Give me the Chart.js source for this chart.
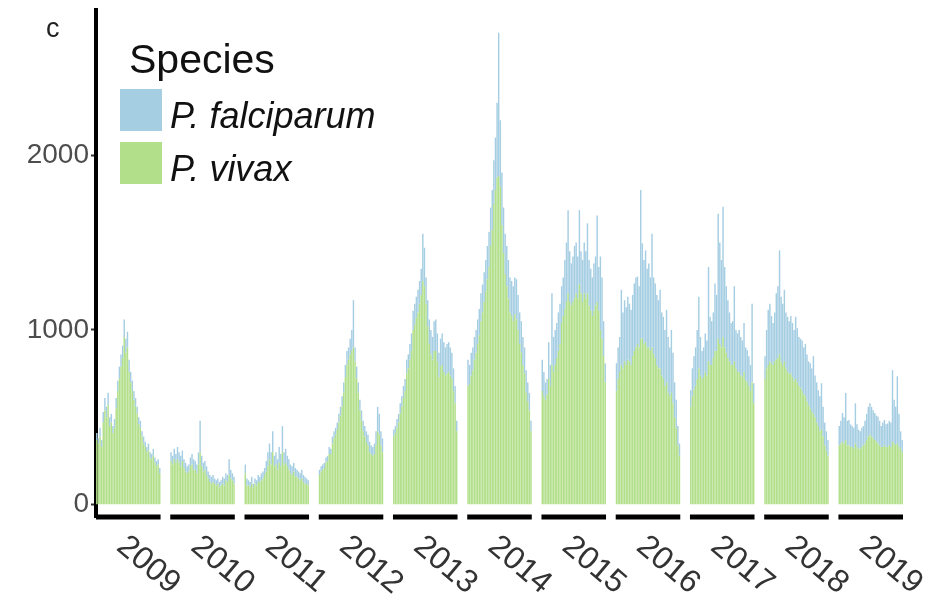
<!DOCTYPE html>
<html>
<head>
<meta charset="utf-8">
<script src="https://cdn.jsdelivr.net/npm/chart.js@4"></script>
<style>
    body { margin: 0; background: #fff; }
    canvas { display: block; }
</style>
</head>
<body>
<canvas id="species-chart" width="948" height="603"></canvas>
<script>
const years = ['2009', '2010', '2011', '2012', '2013', '2014', '2015', '2016', '2017', '2018', '2019'];

// cases per period, one row per year (40 periods each)
const vivax = [
    [370,350,390,330,470,540,500,570,450,470,410,440,550,650,720,790,840,960,870,900,760,700,650,600,560,520,460,440,390,350,330,300,310,270,260,280,240,220,230,180],
    [250,230,260,240,260,240,220,250,210,190,180,190,220,230,200,200,180,230,300,220,190,200,170,150,130,120,130,120,110,120,100,110,120,110,140,130,170,150,140,120],
    [180,110,110,100,120,100,120,110,130,130,140,150,170,190,220,260,230,300,220,230,200,240,220,300,230,240,220,200,180,170,190,160,160,150,140,150,130,120,120,110],
    [170,190,200,210,240,250,290,290,350,380,400,430,470,510,560,640,730,800,830,860,880,900,820,720,640,540,480,420,390,360,340,300,290,280,290,340,420,400,340,300],
    [390,410,440,470,520,560,610,650,750,780,830,880,1000,1030,1070,1100,1150,1200,1280,1250,1150,1020,920,860,830,880,880,820,730,790,800,760,740,750,760,740,720,650,580,420],
    [680,690,740,770,830,870,920,970,1050,1100,1160,1220,1290,1360,1480,1570,1720,1800,1870,1880,1820,1600,1440,1320,1250,1180,1100,1080,1050,1090,1060,1000,920,870,800,750,640,590,540,420],
    [650,620,600,630,720,680,800,760,800,840,880,920,1040,1080,1120,1160,1210,1160,1140,1160,1180,1210,1180,1260,1210,1160,1210,1180,1210,1140,1110,1080,1110,1140,1160,1110,1000,950,850,700],
    [650,720,760,800,780,820,800,830,820,800,850,880,900,920,900,950,950,920,930,900,900,880,900,860,840,800,780,780,740,720,680,700,640,620,640,580,500,440,340,280],
    [560,620,660,680,720,780,740,720,730,760,740,820,800,800,840,880,880,950,920,900,960,900,870,840,820,800,800,820,780,760,760,740,730,760,710,700,680,650,700,580],
    [720,780,800,820,810,800,820,830,840,860,820,800,820,780,760,750,750,730,710,720,700,680,670,650,630,620,590,570,550,530,520,500,470,450,420,430,390,340,310,280],
    [340,350,360,350,370,340,340,330,330,320,350,330,320,320,330,340,350,370,390,400,390,380,370,360,350,340,330,330,340,330,330,340,330,360,350,340,350,330,320,300]
];

const falciparum = [
    [40,30,50,40,60,70,60,70,50,50,40,50,60,60,70,70,70,100,80,90,70,60,60,50,50,40,40,40,30,40,30,30,40,30,30,40,30,30,30,30],
    [50,50,60,50,70,60,60,60,50,50,40,40,50,60,60,50,50,70,180,60,50,50,50,40,40,40,40,30,30,30,30,30,40,40,40,40,90,50,40,40],
    [50,40,30,30,40,20,30,30,40,30,40,40,40,60,80,90,70,120,60,70,60,90,70,150,70,80,60,60,50,50,50,50,40,40,40,50,40,40,30,30],
    [30,30,30,30,30,30,40,30,40,40,40,40,50,50,60,60,70,80,70,90,120,270,80,70,60,60,60,60,60,60,60,60,50,50,60,80,140,120,80,80],
    [40,40,50,50,60,60,70,70,80,80,90,100,110,120,120,130,130,150,270,220,150,150,140,140,130,170,180,160,140,160,180,170,160,170,170,160,150,130,100,60],
    [150,110,130,130,130,130,140,150,160,160,170,180,190,200,220,230,250,300,430,820,380,300,260,230,230,220,200,200,200,210,230,200,180,180,160,150,130,110,100,60],
    [180,140,100,90,210,120,410,200,200,200,220,230,210,220,280,340,475,290,240,260,300,290,240,425,240,240,290,270,400,260,240,220,270,280,495,250,420,350,200,110],
    [160,180,200,430,320,350,330,360,330,315,350,385,400,385,350,850,545,480,525,450,480,420,650,440,425,400,390,450,360,355,320,415,320,280,360,290,200,160,110,70],
    [95,160,190,220,280,410,220,160,170,220,200,540,275,250,260,385,320,715,580,500,745,460,380,330,280,240,250,430,220,220,240,220,210,280,190,185,170,150,450,115],
    [130,220,315,330,270,240,280,380,410,595,370,350,410,320,315,300,330,310,290,355,310,280,280,290,270,300,270,250,260,250,330,240,230,205,200,265,170,130,110,90],
    [110,130,165,150,270,140,145,130,120,120,230,130,110,100,110,110,130,150,170,180,170,160,155,150,155,140,120,140,145,130,135,140,140,410,250,220,385,190,100,70]
];

const yTicks = [0, 1000, 2000];
const speciesNames = ['P. falciparum', 'P. vivax'];
const speciesColors = ['#a6cee3', '#b2df8a'];

const gapSlots = 6;

// flatten the years into one category axis with empty slots between facets
const labels = [];
const vivaxData = [];
const falciparumData = [];
const yearStart = [];
years.forEach((year, i) => {
    if (i > 0) {
        for (let g = 0; g < gapSlots; ++g) {
            labels.push('');
            vivaxData.push(null);
            falciparumData.push(null);
        }
    }
    yearStart.push(labels.length);
    vivax[i].forEach((v, j) => {
        labels.push(year + '-' + j);
        vivaxData.push(v);
        falciparumData.push(falciparum[i][j]);
    });
});

const facetAxis = {
    id: 'facetAxis',
    afterDraw(chart) {
        const ctx = chart.ctx;
        const xs = chart.scales.x;
        const area = chart.chartArea;
        const half = (xs.getPixelForValue(1) - xs.getPixelForValue(0)) / 2;
        ctx.save();
        years.forEach((year, i) => {
            const first = yearStart[i];
            const last = first + vivax[i].length - 1;
            const x0 = xs.getPixelForValue(first) - half;
            const x1 = xs.getPixelForValue(last) + half;
            ctx.strokeStyle = '#000';
            ctx.lineWidth = 5;
            ctx.beginPath();
            ctx.moveTo(x0, area.bottom);
            ctx.lineTo(x1, area.bottom);
            ctx.stroke();

            const center = (x0 + x1) / 2;
            ctx.save();
            ctx.translate(center + 3, area.bottom + 13);
            ctx.rotate(40 * Math.PI / 180);
            ctx.fillStyle = '#333';
            ctx.font = '32px "Liberation Sans", Arial, sans-serif';
            ctx.textAlign = 'left';
            ctx.textBaseline = 'top';
            ctx.fillText(year, 0, 0);
            ctx.restore();
        });

        // legend
        ctx.fillStyle = '#111';
        ctx.textAlign = 'left';
        ctx.textBaseline = 'alphabetic';
        ctx.font = '41px "Liberation Sans", Arial, sans-serif';
        ctx.fillText('Species', 129, 73);
        ctx.font = 'italic 36px "Liberation Sans", Arial, sans-serif';
        speciesNames.forEach((name, i) => {
            const top = 89 + i * 53;
            ctx.fillStyle = speciesColors[i];
            ctx.fillRect(120, top, 42, 42);
            ctx.fillStyle = '#111';
            ctx.fillText(name, 170, top + 39);
        });

        // panel letter
        ctx.font = '27px "Liberation Sans", Arial, sans-serif';
        ctx.fillStyle = '#222';
        ctx.fillText('c', 46, 37);
        ctx.restore();
    }
};

new Chart(document.getElementById('species-chart'), {
    type: 'bar',
    data: {
        labels: labels,
        datasets: [{
            label: speciesNames[1],
            data: vivaxData,
            backgroundColor: speciesColors[1],
            barPercentage: 0.9,
            categoryPercentage: 1
        }, {
            label: speciesNames[0],
            data: falciparumData,
            backgroundColor: speciesColors[0],
            barPercentage: 0.9,
            categoryPercentage: 1
        }]
    },
    options: {
        responsive: false,
        animation: false,
        layout: {
            padding: { top: 10, right: 45, bottom: 86, left: 0 }
        },
        scales: {
            x: {
                display: false,
                stacked: true
            },
            y: {
                stacked: true,
                min: -70,
                max: 2830,
                afterFit: (scale) => {
                    scale.width = 96;
                    scale.paddingTop = 0;
                    scale.paddingBottom = 0;
                },
                afterBuildTicks: (scale) => {
                    scale.ticks = yTicks.map((v) => ({ value: v }));
                },
                border: { display: true, color: '#000', width: 4 },
                grid: {
                    drawOnChartArea: false,
                    drawTicks: true,
                    tickLength: 5,
                    tickColor: '#333',
                    tickWidth: 2
                },
                ticks: {
                    color: '#4d4d4d',
                    padding: 2,
                    callback: (v) => String(v),
                    font: { family: '"Liberation Sans", Arial, sans-serif', size: 28 }
                }
            }
        },
        plugins: {
            legend: { display: false },
            tooltip: { enabled: false }
        }
    },
    plugins: [facetAxis]
});
</script>
</body>
</html>
